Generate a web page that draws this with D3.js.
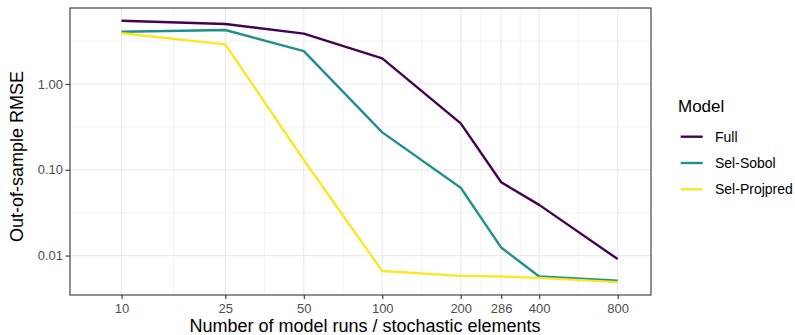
<!DOCTYPE html>
<html>
<head>
<meta charset="utf-8">
<script src="https://cdn.jsdelivr.net/npm/d3@7"></script>
<style>
  body { margin: 0; background: #fff; }
  svg { font-family: "Liberation Sans", Arial, sans-serif; }
</style>
</head>
<body>
<div id="chart"></div>
<script>
const width = 795;
const height = 335;
const panel = {left: 70, right: 651, top: 8, bottom: 295};

// data
const runs = [10, 25, 50, 100, 200, 286, 400, 800];
const models = ['Full', 'Sel-Sobol', 'Sel-Projpred'];
const full = [5.47, 5.0, 3.86, 1.99, 0.348, 0.0715, 0.039, 0.0091];
const selSobol = [4.07, 4.26, 2.42, 0.273, 0.0618, 0.0124, 0.0057, 0.0051];
const selProjpred = [3.9, 2.9, 0.13, 0.0066, 0.0058, 0.0057, 0.0055, 0.0049];
const yTicks = [0.01, 0.1, 1];
const colors = ['#440154', '#21908C', '#FDE725'];

const series = [full, selSobol, selProjpred].map((vals, i) => ({
  name: models[i],
  color: colors[i],
  values: vals.map((v, j) => ({x: runs[j], y: v}))
}));

const svg = d3.select('#chart')
  .append('svg')
  .attr('width', width)
  .attr('height', height);

const xScale = d3.scaleLog()
  .domain([6.34, 1074])
  .range([panel.left, panel.right]);

const yScale = d3.scaleLog()
  .domain([0.00347, 7.69])
  .range([panel.bottom, panel.top]);

// minor breaks halfway between majors (in log space)
const xMinor = d3.pairs(runs).map(p => Math.sqrt(p[0] * p[1]));
const yMinor = [0.001, 0.01, 0.1, 1].map(v => v * Math.sqrt(10))
  .filter(v => v > yScale.domain()[0] && v < yScale.domain()[1]);

// grid
const grid = svg.append('g');
grid.selectAll('.xminor').data(xMinor).enter().append('line')
  .attr('x1', d => xScale(d)).attr('x2', d => xScale(d))
  .attr('y1', panel.top).attr('y2', panel.bottom)
  .attr('stroke', '#EBEBEB').attr('stroke-width', 0.6);
grid.selectAll('.yminor').data(yMinor).enter().append('line')
  .attr('y1', d => yScale(d)).attr('y2', d => yScale(d))
  .attr('x1', panel.left).attr('x2', panel.right)
  .attr('stroke', '#EBEBEB').attr('stroke-width', 0.6);
grid.selectAll('.xmajor').data(runs).enter().append('line')
  .attr('x1', d => xScale(d)).attr('x2', d => xScale(d))
  .attr('y1', panel.top).attr('y2', panel.bottom)
  .attr('stroke', '#EBEBEB').attr('stroke-width', 1.2);
grid.selectAll('.ymajor').data(yTicks).enter().append('line')
  .attr('y1', d => yScale(d)).attr('y2', d => yScale(d))
  .attr('x1', panel.left).attr('x2', panel.right)
  .attr('stroke', '#EBEBEB').attr('stroke-width', 1.2);

// lines
const line = d3.line()
  .x(d => xScale(d.x))
  .y(d => yScale(d.y));

svg.selectAll('.series')
  .data(series)
  .enter()
  .append('path')
  .attr('d', d => line(d.values))
  .attr('fill', 'none')
  .attr('stroke', d => d.color)
  .attr('stroke-width', 2.4)
  .attr('stroke-linejoin', 'round');

// panel border
svg.append('rect')
  .attr('x', panel.left).attr('y', panel.top)
  .attr('width', panel.right - panel.left)
  .attr('height', panel.bottom - panel.top)
  .attr('fill', 'none')
  .attr('stroke', '#333333')
  .attr('stroke-width', 1.1);

// axes
const xAxis = d3.axisBottom(xScale)
  .tickValues(runs)
  .tickFormat(d3.format('d'))
  .tickSize(4)
  .tickPadding(4.3)
  .tickSizeOuter(0);

const yAxis = d3.axisLeft(yScale)
  .tickValues(yTicks)
  .tickFormat(d3.format('.2f'))
  .tickSize(4.5)
  .tickPadding(2.5)
  .tickSizeOuter(0);

const gx = svg.append('g')
  .attr('transform', 'translate(0,' + panel.bottom + ')')
  .call(xAxis);
const gy = svg.append('g')
  .attr('transform', 'translate(' + panel.left + ',0)')
  .call(yAxis);

[gx, gy].forEach(g => {
  g.select('.domain').remove();
  g.selectAll('.tick line').attr('stroke', '#333333').attr('stroke-width', 1.1);
  g.selectAll('.tick text')
    .attr('fill', '#4D4D4D')
    .style('font-size', '13px')
    .style('font-family', '"Liberation Sans", Arial, sans-serif');
});

// axis titles
svg.append('text')
  .attr('x', 365)
  .attr('y', 332)
  .attr('text-anchor', 'middle')
  .style('font-size', '18px')
  .text('Number of model runs / stochastic elements');

svg.append('text')
  .attr('transform', 'rotate(-90)')
  .attr('x', -156.5)
  .attr('y', 23)
  .attr('text-anchor', 'middle')
  .style('font-size', '18px')
  .text('Out-of-sample RMSE');

// legend
const legend = svg.append('g')
  .attr('transform', 'translate(678,0)');

legend.append('text')
  .attr('x', 0)
  .attr('y', 111.5)
  .style('font-size', '17px')
  .text('Model');

const items = legend.selectAll('.item')
  .data(series)
  .enter()
  .append('g')
  .attr('transform', (d, i) => 'translate(0,' + (136.7 + i * 26.3) + ')');

items.append('line')
  .attr('x1', 2.7).attr('x2', 24.7)
  .attr('stroke', d => d.color)
  .attr('stroke-width', 2.4);

items.append('text')
  .attr('x', 37)
  .attr('dy', '0.36em')
  .style('font-size', '14px')
  .text(d => d.name);
</script>
</body>
</html>
